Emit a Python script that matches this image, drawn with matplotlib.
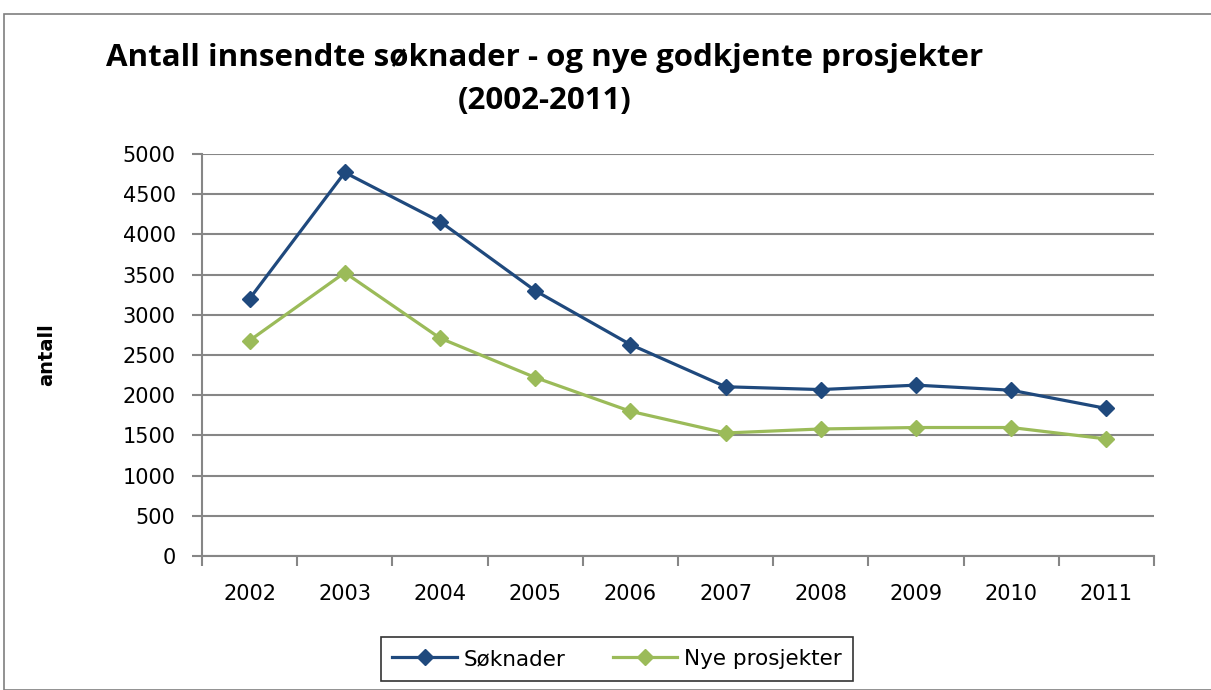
import matplotlib
matplotlib.use("Agg")
import matplotlib.pyplot as plt
from matplotlib.patches import Rectangle

years = ["2002", "2003", "2004", "2005", "2006", "2007", "2008", "2009", "2010", "2011"]
soknader = [3200, 4770, 4160, 3300, 2630, 2105, 2070, 2125, 2062, 1835]
nye_prosjekter = [2680, 3525, 2710, 2220, 1800, 1530, 1580, 1598, 1598, 1456]
y_ticks = [0, 500, 1000, 1500, 2000, 2500, 3000, 3500, 4000, 4500, 5000]

W, H = 1211, 690
fig = plt.figure(figsize=(W / 100, H / 100), dpi=100)
fig.patches.append(Rectangle((4 / W, 0), 1.2, (H - 14) / H, transform=fig.transFigure,
                             fill=False, edgecolor="#7f7f7f", lw=1.2))

ax = fig.add_axes([202 / W, 1 - 556 / H, (1154 - 202) / W, (556 - 154) / H])
x = list(range(len(years)))
ax.plot(x, soknader, color="#1F497D", lw=2.3, marker="D", ms=8, label="Søknader")
ax.plot(x, nye_prosjekter, color="#9BBB59", lw=2.3, marker="D", ms=8, label="Nye prosjekter")

ax.set_xlim(-0.5, len(years) - 0.5)
ax.set_ylim(0, 5000)
ax.set_yticks(y_ticks)
ax.set_yticklabels([str(v) for v in y_ticks], fontsize=15)
ax.set_xticks([i - 0.5 for i in range(len(years) + 1)])
ax.set_xticklabels([])
ax.set_xticks(x, minor=True)
ax.set_xticklabels(years, minor=True, fontsize=15)
ax.tick_params(axis="x", which="minor", length=0, pad=20)
ax.tick_params(axis="x", which="major", length=7, width=1.5, color="#868686", direction="out")
ax.tick_params(axis="y", length=7, width=1.5, color="#868686", direction="out", pad=12)
ax.grid(axis="y", color="#868686", lw=1.5)
ax.set_axisbelow(True)
for s in ["top", "right"]:
    ax.spines[s].set_visible(False)
for s in ["left", "bottom"]:
    ax.spines[s].set_color("#868686")
    ax.spines[s].set_linewidth(1.5)

fig.text(47 / W, 1 - 355 / H, "antall", rotation=90, fontsize=14, fontweight="bold",
         ha="center", va="center")
fig.text(545 / W, 1 - 58 / H, "Antall innsendte søknader - og nye godkjente prosjekter",
         fontsize=22.5, fontweight="bold", ha="center", va="center", family="Open Sans")
fig.text(545 / W, 1 - 101 / H, "(2002-2011)",
         fontsize=22.5, fontweight="bold", ha="center", va="center", family="Open Sans")

leg = fig.legend(loc="center", bbox_to_anchor=(617 / W, 1 - 659 / H), ncol=2, fontsize=15.5,
                 frameon=True, fancybox=False, edgecolor="black", handlelength=3.0,
                 columnspacing=2.2, borderpad=0.55, handletextpad=0.3)
leg.get_frame().set_linewidth(1.2)

fig.savefig("out.png", dpi=100)
